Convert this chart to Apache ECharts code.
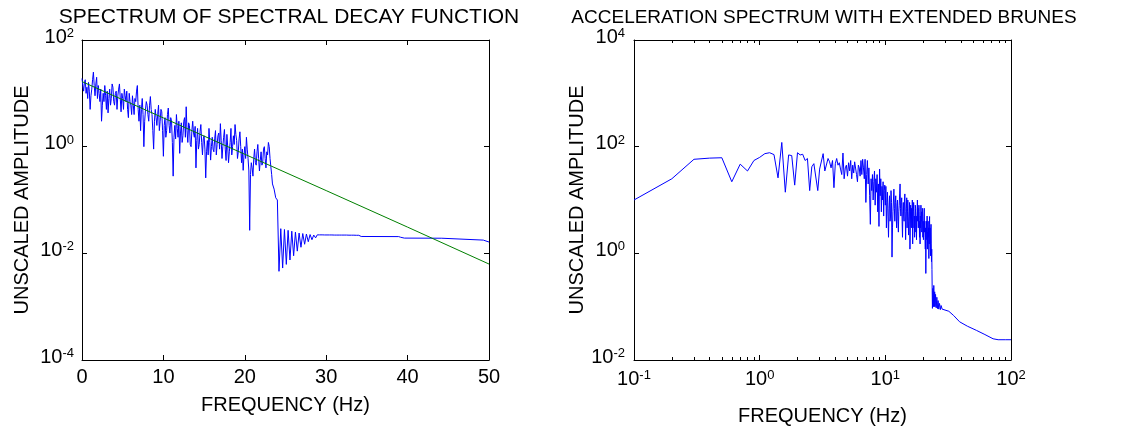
<!DOCTYPE html>
<html><head><meta charset="utf-8">
<script src="https://cdn.jsdelivr.net/npm/echarts@6/dist/echarts.min.js"></script>
<style>html,body{margin:0;padding:0;background:#fff}#c{width:1124px;height:432px}</style>
</head><body><div id="c"></div>
<script>
const leftTitle = 'SPECTRUM OF SPECTRAL DECAY FUNCTION';
const rightTitle = 'ACCELERATION SPECTRUM WITH EXTENDED BRUNES';
const xName = 'FREQUENCY (Hz)';
const yName = 'UNSCALED AMPLITUDE';
const leftXTicks = [0, 10, 20, 30, 40, 50];
const leftYTicks = [1e-4, 1e-2, 1, 1e2];
const rightXTicks = [0.1, 1, 10, 100];
const rightXMinorTicks = [0.2,0.3,0.4,0.5,0.6,0.7,0.8,0.9,2,3,4,5,6,7,8,9,20,30,40,50,60,70,80,90];
const rightYTicks = [1e-2, 1, 1e2, 1e4];

// left: spectrum of spectral decay function (blue)
const decaySpectrum = [
[0.0,19],[0.1,14],[0.2,11],[0.3,16],[0.4,18],[0.5,10],[0.6,13],[0.7,8],[0.8,16],[0.9,11],
[1.0,5],[1.1,9],[1.2,12],[1.3,18],[1.4,25],[1.5,14],[1.6,9],[1.7,15],[1.8,20],[1.9,8],
[2.0,14],[2.1,10],[2.2,7],[2.3,12],[2.4,3],[2.5,6],[2.6,10],[2.7,7],[2.8,14],[2.9,9],
[3.0,5],[3.1,11],[3.2,4.3],[3.3,8],[3.4,12],[3.5,6],[3.6,8],[3.7,15],[3.8,13],[3.9,7],
[4.0,6],[4.1,10],[4.2,11],[4.3,5],[4.4,9],[4.5,12],[4.6,15],[4.7,8],[4.8,4.5],[4.9,10],
[5.0,8],[5.1,5],[5.2,12],[5.3,9],[5.4,7],[5.5,11],[5.6,5],[5.7,3.5],[5.8,10],[5.9,7],
[6.0,6],[6.1,4],[6.2,9],[6.3,6],[6.4,4],[6.5,8],[6.6,7],[6.7,11],[6.8,14],[6.9,5],
[7.0,3],[7.1,6],[7.2,2.0],[7.3,5],[7.4,8],[7.5,4],[7.6,1.0],[7.7,3],[7.8,5],[7.9,7],
[8.0,6],[8.1,4],[8.2,3],[8.3,6],[8.4,8.7],[8.5,5],[8.6,4],[8.7,2],[8.8,0.9],[8.9,3],
[9.0,5],[9.1,3.5],[9.2,2.5],[9.3,4],[9.4,6],[9.5,2],[9.6,3],[9.7,5],[9.8,4.5],[9.9,2],
[10.0,0.66],[10.1,2.5],[10.2,3.5],[10.3,1.5],[10.4,2],[10.5,4],[10.6,5.3],[10.7,2.5],[10.8,1.8],[10.9,3.5],
[11.0,3],[11.1,1.2],[11.2,0.28],[11.3,1.5],[11.4,2.5],[11.5,1.4],[11.6,4],[11.7,2.2],[11.8,1.5],[11.9,3],
[12.0,0.75],[12.1,1.8],[12.2,2.8],[12.3,1.2],[12.4,1.6],[12.5,3],[12.6,3.5],[12.7,1.5],[12.8,5.6],[12.9,2],
[13.0,1.2],[13.1,2.8],[13.2,2.5],[13.3,1.1],[13.4,1.0],[13.5,2],[13.6,3],[13.7,1.8],[13.8,1.5],[13.9,2.4],
[14.0,0.4],[14.1,1.3],[14.2,2.2],[14.3,0.9],[14.4,1.1],[14.5,1.9],[14.6,2.6],[14.7,1.2],[14.8,0.7],[14.9,1.4],
[15.0,1.6],[15.1,0.9],[15.2,0.26],[15.3,0.8],[15.4,1.3],[15.5,0.7],[15.6,2.2],[15.7,1.2],[15.8,0.56],[15.9,1.0],
[16.0,1.5],[16.1,0.9],[16.2,0.8],[16.3,1.4],[16.4,2.0],[16.5,0.7],[16.6,1.1],[16.7,1.6],[16.8,1.8],[16.9,0.9],
[17.0,2.7],[17.1,1.3],[17.2,0.6],[17.3,1.0],[17.4,1.5],[17.5,2.1],[17.6,0.9],[17.7,0.55],[17.8,1.7],[17.9,1.0],
[18.0,0.5],[18.1,0.8],[18.2,1.2],[18.3,2.2],[18.4,0.7],[18.5,1.0],[18.6,1.6],[18.7,1.1],[18.8,2.6],[18.9,1.7],
[19.0,1.3],[19.1,0.6],[19.2,0.8],[19.3,1.4],[19.4,1.9],[19.5,1.0],[19.6,0.5],[19.7,0.9],[19.8,0.36],[19.9,0.7],
[20.0,1.0],[20.1,0.6],[20.2,1.5],[20.3,0.9],[20.4,0.6],[20.5,0.35],[20.6,0.027],[20.7,0.3],[20.8,0.5],[20.9,0.4],
[21.0,0.28],[21.1,0.6],[21.2,0.9],[21.3,0.5],[21.4,0.45],[21.5,0.8],[21.6,1.1],[21.7,0.6],[21.8,0.35],[21.9,0.55],
[22.0,0.8],[22.1,0.45],[22.2,0.5],[22.3,0.9],[22.4,1.0],[22.5,0.6],[22.6,0.4],[22.7,0.8],[22.8,0.7],[22.9,1.2],
[23.0,1.0],[23.1,0.6],[23.2,0.42],[23.3,0.3],[23.4,0.2],[23.6,0.16],[23.8,0.11],
[24.0,0.1],[24.2,0.0046],[24.42,0.029],[24.65,0.0053],[24.87,0.028],[25.1,0.0062],[25.32,0.027],[25.55,0.0075],[25.77,0.026],[26.0,0.009],
[26.22,0.025],[26.45,0.011],[26.67,0.024],[26.9,0.013],[27.12,0.0235],[27.35,0.0148],[27.57,0.023],[27.8,0.0165],[28.02,0.0225],[28.25,0.018],
[28.47,0.022],[28.7,0.0195],[28.9,0.0222],
[29.05,0.0208],[29.2,0.0222],[29.35,0.0208],[29.5,0.0222],[29.65,0.0208],[29.8,0.0221],[29.95,0.0208],[30.1,0.0221],[30.25,0.0208],[30.4,0.0221],
[30.55,0.0208],[30.7,0.0221],[30.85,0.0209],[31.0,0.022],[31.15,0.0209],[31.3,0.022],[31.45,0.0209],[31.6,0.022],[31.75,0.0209],[31.9,0.022],
[32.05,0.0209],[32.2,0.022],[32.35,0.0209],[32.5,0.022],[32.65,0.021],[32.8,0.0219],[32.95,0.021],[33.1,0.0219],[33.25,0.021],[33.4,0.0219],
[33.55,0.021],[33.7,0.0218],[33.85,0.021],[34.0,0.0218],[34.15,0.0211],
[34.3,0.0207],[38.9,0.0206],[39.05,0.0212],[39.15,0.02],[39.3,0.0205],[39.6,0.0193],[44.2,0.0192],[44.35,0.0179],[49.3,0.0177],[49.45,0.0163],[50,0.0163]
];

// left: fitted decay (green straight line on log scale)
const decayFit = [[0,16.6],[10,3.46],[20,0.72],[30,0.15],[40,0.031],[50,0.0063]];

// right: acceleration spectrum with extended Brune's
const accelSpectrum = [
[0.1,10],[0.2,25],[0.3,58],[0.4,61],[0.5,62],[0.6,22],[0.7,47],[0.8,35],[0.9,55],[1.0,63],
[1.1,74],[1.2,77],[1.3,71],[1.4,26],[1.5,120],[1.6,14],[1.7,70],[1.8,68],[1.9,19],[2.0,77],
[2.1,70],[2.2,72],[2.3,55],[2.4,60],[2.5,15],[2.6,42],[2.7,48],[2.8,45],[2.9,15],[3.0,38],
[3.1,40],[3.2,74],[3.3,35],[3.4,33],[3.5,60],[3.6,52],[3.7,40],[3.8,55],[3.9,17],[4.0,48],
[4.1,60],[4.2,45],[4.3,50],[4.4,38],[4.5,30],[4.6,76],[4.7,25],[4.8,40],[4.9,45],[5.0,28],
[5.1,50],[5.2,35],[5.3,55],[5.4,25],[5.5,45],[5.6,32],[5.7,52],[5.8,48],[5.9,30],[6.0,22],
[6.1,45],[6.2,40],[6.3,28],[6.4,55],[6.5,30],[6.6,58],[6.7,40],[6.8,25],[6.9,58],[7.0,9],
[7.1,30],[7.2,55],[7.3,20],[7.4,40],[7.5,12],[7.6,3.5],[7.7,25],[7.8,15],[7.9,30],[8.0,10],
[8.1,22],[8.2,35],[8.3,8],[8.4,25],[8.5,14],[8.6,30],[8.7,6],[8.8,20],[8.9,3.2],[9.0,38],
[9.1,12],[9.2,25],[9.3,6],[9.4,18],[9.5,10],[9.6,22],[9.7,5],[9.8,15],[9.9,19],
[10.0,8],[10.1,18],[10.2,3],[10.3,9],[10.4,14],[10.5,5],[10.6,2],[10.7,7],[10.8,12],[10.9,4],
[11.0,5],[11.1,15],[11.2,9],[11.3,0.85],[11.4,3],[11.5,6],[11.6,10],[11.7,16],[11.8,7],[11.9,4],
[12.0,9],[12.1,12],[12.2,5],[12.3,3],[12.4,8],[12.5,10],[12.6,4],[12.7,2.5],[12.8,6],[12.9,8],
[13.0,13],[13.1,20],[13.2,7],[13.3,5],[13.4,9],[13.5,11],[13.6,4],[13.7,2],[13.8,6],[13.9,9],
[14.0,5],[14.1,4],[14.2,10],[14.3,13],[14.4,6],[14.5,1.8],[14.6,4],[14.7,7],[14.8,11],[14.9,3],
[15.0,6],[15.1,10],[15.2,5],[15.3,2.2],[15.4,4],[15.5,6],[15.6,9],[15.7,1.2],[15.8,3],[15.9,8],
[16.0,5],[16.1,3],[16.2,7],[16.3,5],[16.4,10],[16.5,1.5],[16.6,4],[16.7,6],[16.8,9],[16.9,3],
[17.0,5],[17.1,2],[17.2,4],[17.3,8],[17.4,7],[17.5,2.5],[17.6,5],[17.7,1.8],[17.8,4],[17.9,6],
[18.0,10],[18.1,4],[18.2,7],[18.3,3],[18.4,5],[18.5,8],[18.6,6],[18.7,2],[18.8,4],[18.9,1.5],
[19.0,5],[19.1,3],[19.2,8],[19.3,4],[19.4,6],[19.5,2.5],[19.6,3.5],[19.7,7],[19.8,5],[19.9,2],
[20.0,4],[20.1,1.8],[20.2,3],[20.3,5],[20.4,7],[20.5,2.5],[20.6,4],[20.7,2],[20.8,1.2],[20.9,3],
[21.0,0.42],[21.1,1.5],[21.2,4],[21.3,3],[21.4,1.8],[21.5,5],[21.6,1.2],[21.7,2.5],[21.8,1.5],[21.9,4],
[22.0,2],[22.1,3],[22.2,0.8],[22.3,2],[22.4,3.5],[22.5,4.9],[22.6,1.5],[22.7,3],[22.8,1.5],[22.9,0.9],
[23.0,2.5],[23.1,3.5],[23.2,1.5],[23.3,0.7],[23.4,1.2],[23.5,0.5],[23.6,0.2],[23.7,0.093],[23.9,0.22],[24.1,0.1],
[24.3,0.25],[24.5,0.1],[24.7,0.19],[24.9,0.1],[25.1,0.17],[25.4,0.095],[25.7,0.15],[26.0,0.092],[26.3,0.13],[26.6,0.09],
[27.0,0.115],[27.4,0.088],[27.8,0.105],[28.3,0.09],[28.9,0.097],[32,0.082],[35,0.068],[39,0.052],[45,0.043],[53,0.036],
[62,0.03],[72,0.025],[79,0.024],[90,0.024],[100,0.024]
];

const FONT = 'Liberation Sans, Arial, Helvetica, sans-serif';
const BLACK = '#000';
const supFormatter = v => '{b|10}{s|' + Math.round(Math.log10(v)) + '}';
const supRich = {
  b: {fontSize: 20, fontFamily: FONT, color: BLACK, lineHeight: 20, verticalAlign: 'bottom'},
  s: {fontSize: 13, fontFamily: FONT, color: BLACK, lineHeight: 13, verticalAlign: 'top', padding: [0, 0, 13, 0]}
};
const axisLine = {show: true, onZero: false, lineStyle: {color: BLACK, width: 1}};
const nameStyle = {fontSize: 20, fontFamily: FONT, color: BLACK};

function xAx(extra) {
  return Object.assign({
    axisLine: axisLine,
    splitLine: {show: false},
    axisLabel: {show: false}
  }, extra);
}

const chart = echarts.init(document.getElementById('c'), null, {renderer: 'canvas'});
chart.setOption({
  animation: false,
  backgroundColor: '#fff',
  title: [
    {text: leftTitle, left: 284, top: 2, textAlign: 'center', textStyle: {fontSize: 21, fontWeight: 'normal', color: BLACK, fontFamily: FONT}},
    {text: rightTitle, left: 819, top: 3, textAlign: 'center', textStyle: {fontSize: 19, fontWeight: 'normal', color: BLACK, fontFamily: FONT}}
  ],
  grid: [
    {left: 82, top: 40, width: 407, height: 320, containLabel: false},
    {left: 634, top: 40, width: 377, height: 320, containLabel: false}
  ],
  xAxis: [
    xAx({gridIndex: 0, type: 'value', min: 0, max: 50, interval: 10, position: 'bottom',
      axisTick: {inside: true, length: 5, lineStyle: {color: BLACK}, customValues: leftXTicks},
      axisLabel: {show: true, color: BLACK, fontSize: 20, fontFamily: FONT, margin: 7, customValues: leftXTicks},
      name: xName, nameLocation: 'middle', nameGap: 35, nameTextStyle: nameStyle}),
    xAx({gridIndex: 0, type: 'value', min: 0, max: 50, interval: 10, position: 'top',
      axisTick: {inside: true, length: 5, lineStyle: {color: BLACK}, customValues: leftXTicks}}),
    xAx({gridIndex: 1, type: 'log', min: 0.1, max: 100, position: 'bottom',
      axisTick: {inside: true, length: 5, lineStyle: {color: BLACK}, customValues: rightXTicks},
      axisLabel: {show: true, formatter: supFormatter, rich: supRich, margin: 9, customValues: rightXTicks},
      name: xName, nameLocation: 'middle', nameGap: 46, nameTextStyle: nameStyle}),
    xAx({gridIndex: 1, type: 'log', min: 0.1, max: 100, position: 'top',
      axisTick: {inside: true, length: 5, lineStyle: {color: BLACK}, customValues: rightXTicks}}),
    xAx({gridIndex: 1, type: 'log', min: 0.1, max: 100, position: 'bottom', axisLine: {show: false},
      axisTick: {inside: true, length: 3, lineStyle: {color: BLACK}, customValues: rightXMinorTicks}}),
    xAx({gridIndex: 1, type: 'log', min: 0.1, max: 100, position: 'top', axisLine: {show: false},
      axisTick: {inside: true, length: 3, lineStyle: {color: BLACK}, customValues: rightXMinorTicks}})
  ],
  yAxis: [
    xAx({gridIndex: 0, type: 'log', min: 1e-4, max: 1e2, position: 'left',
      axisTick: {inside: true, length: 5, lineStyle: {color: BLACK}, customValues: leftYTicks},
      axisLabel: {show: true, formatter: supFormatter, rich: supRich, margin: 8, padding: [0, 0, 6, 0], customValues: leftYTicks},
      name: yName, nameLocation: 'middle', nameGap: 50, nameTextStyle: nameStyle}),
    xAx({gridIndex: 0, type: 'log', min: 1e-4, max: 1e2, position: 'right',
      axisTick: {inside: true, length: 5, lineStyle: {color: BLACK}, customValues: leftYTicks}}),
    xAx({gridIndex: 1, type: 'log', min: 1e-2, max: 1e4, position: 'left',
      axisTick: {inside: true, length: 5, lineStyle: {color: BLACK}, customValues: rightYTicks},
      axisLabel: {show: true, formatter: supFormatter, rich: supRich, margin: 9, padding: [0, 0, 6, 0], customValues: rightYTicks},
      name: yName, nameLocation: 'middle', nameGap: 46, nameTextStyle: nameStyle}),
    xAx({gridIndex: 1, type: 'log', min: 1e-2, max: 1e4, position: 'right',
      axisTick: {inside: true, length: 5, lineStyle: {color: BLACK}, customValues: rightYTicks}})
  ],
  series: [
    {type: 'line', xAxisIndex: 0, yAxisIndex: 0, data: decaySpectrum, symbol: 'none', silent: true, z: 2,
      color: '#0000ff', lineStyle: {color: '#0000ff', width: 1}},
    {type: 'line', xAxisIndex: 0, yAxisIndex: 0, data: decayFit, symbol: 'none', silent: true, z: 3,
      color: '#008000', lineStyle: {color: '#008000', width: 1}},
    {type: 'line', xAxisIndex: 2, yAxisIndex: 2, data: accelSpectrum, symbol: 'none', silent: true, z: 2,
      color: '#0000ff', lineStyle: {color: '#0000ff', width: 1}}
  ]
});
</script>
</body></html>
